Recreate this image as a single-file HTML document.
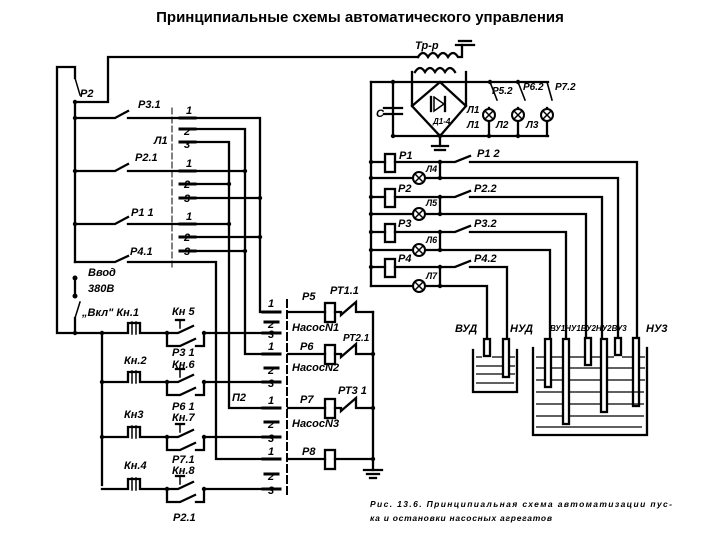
<!DOCTYPE html>
<html><head><meta charset="utf-8"><style>
html,body{margin:0;padding:0;background:#fff;width:720px;height:540px;overflow:hidden}
svg{display:block}
text{font-family:"Liberation Sans",sans-serif;font-weight:bold;font-style:italic;fill:#000}
</style></head><body>
<svg width="720" height="540" viewBox="0 0 720 540" xmlns="http://www.w3.org/2000/svg">
<text x="360" y="22" text-anchor="middle" style="font-style:normal;font-size:15px">Принципиальные схемы автоматического управления</text>
<g fill="none" stroke="#000" stroke-width="2.3" stroke-linecap="square">
<polyline points="75,102 108,102 108,57 418,57"/>
<path d="M418,57 q5,-8 10,0 q5,-8 10,0 q5,-8 10,0 q5,-8 10,0 l4,0 l0,-12"/>
<line x1="456" y1="45" x2="474" y2="45"/><line x1="459" y1="41" x2="471" y2="41"/>
<polyline points="75,78 75,67 57,67 57,333 102,333"/>
<line x1="75" y1="78" x2="80" y2="95" stroke-width="1.5"/>
<line x1="75" y1="102" x2="75" y2="262"/>
<polyline points="75,118 115,118 128,111"/><line x1="128" y1="118" x2="180" y2="118"/>
<polyline points="75,171 115,171 128,164"/><line x1="128" y1="171" x2="180" y2="171"/>
<polyline points="75,224 115,224 128,217"/><line x1="128" y1="224" x2="180" y2="224"/>
<polyline points="75,262 115,262 128,256"/><polyline points="128,262 216,262 216,459 263,459"/>
<line x1="172" y1="108" x2="172" y2="270" stroke-width="1" stroke-dasharray="6,3"/>
<g stroke-width="3">
<line x1="180" y1="118" x2="195" y2="118"/><line x1="180" y1="129" x2="195" y2="129"/><line x1="180" y1="142" x2="195" y2="142"/>
<line x1="180" y1="171" x2="195" y2="171"/><line x1="180" y1="184" x2="195" y2="184"/><line x1="180" y1="198" x2="195" y2="198"/>
<line x1="180" y1="224" x2="195" y2="224"/><line x1="180" y1="237" x2="195" y2="237"/><line x1="180" y1="251" x2="195" y2="251"/>
</g>
<polyline points="195,118 260,118 260,312 263,312"/>
<polyline points="195,129 245,129 245,354 263,354"/>
<polyline points="195,142 229,142 229,408 263,408"/>
<line x1="195" y1="171" x2="245" y2="171"/><line x1="195" y1="184" x2="229" y2="184"/><line x1="195" y1="198" x2="260" y2="198"/>
<line x1="195" y1="224" x2="229" y2="224"/><line x1="195" y1="237" x2="260" y2="237"/><line x1="195" y1="251" x2="245" y2="251"/>
<g stroke-width="3">
<line x1="263" y1="312" x2="280" y2="312"/><line x1="265" y1="322" x2="278" y2="322"/><line x1="263" y1="333" x2="280" y2="333"/>
<line x1="263" y1="354" x2="280" y2="354"/><line x1="265" y1="368" x2="278" y2="368"/><line x1="263" y1="382" x2="280" y2="382"/>
<line x1="263" y1="408" x2="280" y2="408"/><line x1="265" y1="422" x2="278" y2="422"/><line x1="263" y1="437" x2="280" y2="437"/>
<line x1="263" y1="459" x2="280" y2="459"/><line x1="265" y1="474" x2="278" y2="474"/><line x1="263" y1="489" x2="280" y2="489"/>
</g>
<line x1="287" y1="300" x2="287" y2="495" stroke-width="2" stroke-dasharray="7,4"/>
<line x1="288" y1="312" x2="325" y2="312"/><rect x="325" y="303" width="10" height="19"/><polyline points="335,312 341,312 341,315 356,302 356,312 373,312"/>
<line x1="288" y1="354" x2="325" y2="354"/><rect x="325" y="345" width="10" height="19"/><polyline points="335,354 341,354 341,357 356,344 356,354 373,354"/>
<line x1="288" y1="408" x2="325" y2="408"/><rect x="325" y="399" width="10" height="19"/><polyline points="335,408 341,408 341,411 356,398 356,408 373,408"/>
<line x1="288" y1="459" x2="325" y2="459"/><rect x="325" y="450" width="10" height="19"/><line x1="335" y1="459" x2="373" y2="459"/>
<polyline points="373,312 373,470"/><line x1="364" y1="470" x2="382" y2="470"/><line x1="367" y1="474" x2="379" y2="474"/><line x1="370" y1="478" x2="376" y2="478"/>
<line x1="75" y1="278" x2="75" y2="296"/><line x1="75" y1="318" x2="80" y2="302" stroke-width="1.5"/><line x1="75" y1="318" x2="75" y2="333"/>
<line x1="102" y1="333" x2="102" y2="485"/>
<g id="r">
<polyline points="102,333 128,333 128,323 140,323 140,333 167,333 178,333 193,326"/>
<line x1="132" y1="322" x2="132" y2="334" stroke-width="1.5"/><line x1="136" y1="322" x2="136" y2="334" stroke-width="1.5"/>
<line x1="176" y1="320" x2="184" y2="320"/><line x1="180" y1="320" x2="180" y2="328" stroke-width="1.5"/>
<polyline points="167,333 167,346 180,346 195,339"/><polyline points="204,333 204,346 196,346"/>
<line x1="204" y1="333" x2="263" y2="333"/>
</g>
<use href="#r" y="49"/><use href="#r" y="104"/><use href="#r" y="156"/>
<line x1="371" y1="82" x2="371" y2="286"/>
<line x1="371" y1="82" x2="548" y2="82"/>
<line x1="393" y1="82" x2="393" y2="136"/><line x1="384" y1="108" x2="402" y2="108"/><line x1="384" y1="114" x2="402" y2="114"/>
<line x1="393" y1="136" x2="548" y2="136"/>
<path d="M415,72 q5,-8 10,0 q5,-8 10,0 q5,-8 10,0 q5,-8 10,0"/>
<polyline points="412,72 412,106 440,136 466,106 466,72"/><polyline points="412,106 440,82 466,106"/>
<line x1="440" y1="136" x2="440" y2="146"/><line x1="432" y1="146" x2="448" y2="146"/><line x1="435" y1="150" x2="445" y2="150"/>
<polyline points="431,97 431,111"/><polyline points="434,97 434,111 444,104 434,97" stroke-width="1.5"/><line x1="445" y1="97" x2="445" y2="111"/>
<line x1="490" y1="82" x2="497" y2="100" stroke-width="1.6"/><line x1="489" y1="108" x2="489" y2="136"/>
<line x1="518" y1="82" x2="525" y2="100" stroke-width="1.6"/><line x1="518" y1="108" x2="518" y2="136"/>
<line x1="547" y1="82" x2="552" y2="100" stroke-width="1.6"/><line x1="547" y1="108" x2="547" y2="136"/>
<line x1="371" y1="162" x2="385" y2="162"/><rect x="385" y="154" width="10" height="18"/><polyline points="395,162 455,162 470,156"/><polyline points="470,162 637,162 637,338"/>
<polyline points="371,178 440,178 618,178 618,338"/><line x1="440" y1="162" x2="440" y2="178"/>
<line x1="371" y1="197" x2="385" y2="197"/><rect x="385" y="189" width="10" height="18"/><polyline points="395,197 455,197 470,191"/><polyline points="470,197 602,197 602,338"/>
<polyline points="371,214 586,214 586,338"/><line x1="440" y1="197" x2="440" y2="214"/>
<line x1="371" y1="232" x2="385" y2="232"/><rect x="385" y="224" width="10" height="18"/><polyline points="395,232 455,232 470,226"/><polyline points="470,232 566,232 566,338"/>
<polyline points="371,250 550,250 550,338"/><line x1="440" y1="232" x2="440" y2="250"/>
<line x1="371" y1="267" x2="385" y2="267"/><rect x="385" y="259" width="10" height="18"/><polyline points="395,267 455,267 470,261"/><polyline points="470,267 507,267 507,338"/>
<polyline points="371,286 487,286 487,338"/><line x1="440" y1="267" x2="440" y2="286"/>
<polyline points="473,350 473,392 517,392 517,350"/>
<polyline points="533,348 533,435 647,435 647,348"/>
<rect x="484" y="339" width="6" height="17" fill="#fff"/><rect x="503" y="339" width="6" height="38" fill="#fff"/>
<rect x="545" y="339" width="6" height="48" fill="#fff"/><rect x="563" y="339" width="6" height="85" fill="#fff"/>
<rect x="585" y="338" width="6" height="27" fill="#fff"/><rect x="601" y="339" width="6" height="73" fill="#fff"/>
<rect x="615" y="338" width="6" height="17" fill="#fff"/><rect x="633" y="338" width="6" height="68" fill="#fff"/>
</g>
<g stroke="#000" stroke-width="1.2" fill="none">
<path d="M476,357h6M492,357h10M510,357h5M476,366h26M510,366h5M476,374h26M510,374h5M476,383h38"/>
<path d="M536,357h8M552,357h10M570,357h14M592,357h8M608,357h6M622,357h10M640,357h5M536,368h8M552,368h10M570,368h30M608,368h24M640,368h5M536,380h8M552,380h10M570,380h30M608,380h24M640,380h5M536,392h26M570,392h30M608,392h36M536,404h26M570,404h30M608,404h36M536,416h26M570,416h74M536,427h106"/>
</g>
<g fill="#fff" stroke="#000" stroke-width="2">
<circle cx="489" cy="115" r="6"/><circle cx="518" cy="115" r="6"/><circle cx="547" cy="115" r="6"/>
<circle cx="419" cy="178" r="6"/><circle cx="419" cy="214" r="6"/><circle cx="419" cy="250" r="6"/><circle cx="419" cy="286" r="6"/>
</g>
<g stroke="#000" stroke-width="1.5">
<path d="M485,111l8,8M493,111l-8,8M514,111l8,8M522,111l-8,8M543,111l8,8M551,111l-8,8M415,174l8,8M423,174l-8,8M415,210l8,8M423,210l-8,8M415,246l8,8M423,246l-8,8M415,282l8,8M423,282l-8,8"/>
</g>
<g fill="#000">
<circle cx="75" cy="118" r="2.2"/><circle cx="75" cy="171" r="2.2"/><circle cx="75" cy="224" r="2.2"/><circle cx="75" cy="102" r="2.2"/>
<circle cx="245" cy="171" r="2.2"/><circle cx="229" cy="184" r="2.2"/><circle cx="260" cy="198" r="2.2"/><circle cx="229" cy="224" r="2.2"/><circle cx="260" cy="237" r="2.2"/><circle cx="245" cy="251" r="2.2"/>
<circle cx="75" cy="278" r="2.5"/><circle cx="75" cy="296" r="2.5"/><circle cx="75" cy="333" r="2.2"/>
<circle cx="102" cy="333" r="2.2"/><circle cx="102" cy="382" r="2.2"/><circle cx="102" cy="437" r="2.2"/>
<circle cx="167" cy="333" r="2.2"/><circle cx="204" cy="333" r="2.2"/><circle cx="167" cy="382" r="2.2"/><circle cx="204" cy="382" r="2.2"/><circle cx="167" cy="437" r="2.2"/><circle cx="204" cy="437" r="2.2"/><circle cx="167" cy="489" r="2.2"/><circle cx="204" cy="489" r="2.2"/>
<circle cx="373" cy="354" r="2.2"/><circle cx="373" cy="408" r="2.2"/><circle cx="373" cy="459" r="2.2"/>
<circle cx="393" cy="82" r="2.2"/><circle cx="393" cy="136" r="2.2"/><circle cx="490" cy="82" r="2.2"/><circle cx="518" cy="82" r="2.2"/><circle cx="489" cy="136" r="2.2"/><circle cx="518" cy="136" r="2.2"/><circle cx="440" cy="136" r="2.2"/>
<circle cx="371" cy="162" r="2.2"/><circle cx="371" cy="178" r="2.2"/><circle cx="371" cy="197" r="2.2"/><circle cx="371" cy="214" r="2.2"/><circle cx="371" cy="232" r="2.2"/><circle cx="371" cy="250" r="2.2"/><circle cx="371" cy="267" r="2.2"/>
<circle cx="440" cy="162" r="2.2"/><circle cx="440" cy="178" r="2.2"/><circle cx="440" cy="197" r="2.2"/><circle cx="440" cy="214" r="2.2"/><circle cx="440" cy="232" r="2.2"/><circle cx="440" cy="250" r="2.2"/><circle cx="440" cy="267" r="2.2"/><circle cx="440" cy="286" r="2.2"/>
</g>
<g font-size="11">
<text x="80" y="97">Р2</text>
<text x="138" y="108">Р3.1</text><text x="135" y="161">Р2.1</text><text x="131" y="216">Р1 1</text><text x="130" y="255">Р4.1</text>
<text x="154" y="144">Л1</text>
<text x="186" y="114">1</text><text x="186" y="167">1</text><text x="186" y="220">1</text>
<text x="184" y="135">2</text><text x="184" y="148">3</text>
<text x="184" y="188">2</text><text x="184" y="202">3</text>
<text x="184" y="241">2</text><text x="184" y="255">3</text>
<text x="268" y="328">2</text><text x="268" y="338">3</text>
<text x="268" y="374">2</text><text x="268" y="387">3</text>
<text x="268" y="428">2</text><text x="268" y="442">3</text>
<text x="268" y="480">2</text><text x="268" y="494">3</text>
<text x="88" y="276">Ввод</text><text x="88" y="292">380В</text>
<text x="82" y="316">„Вкл" Кн.1</text>
<text x="172" y="315">Кн 5</text>
<text x="124" y="364">Кн.2</text><text x="172" y="356">Р3 1</text><text x="172" y="368">Кн.6</text>
<text x="124" y="418">Кн3</text><text x="172" y="410">Р6 1</text><text x="172" y="421">Кн.7</text>
<text x="124" y="469">Кн.4</text><text x="172" y="463">Р7.1</text><text x="172" y="474">Кн.8</text>
<text x="173" y="521">Р2.1</text>
<text x="268" y="307">1</text><text x="268" y="350">1</text><text x="268" y="404">1</text><text x="268" y="455">1</text>
<text x="232" y="401">П2</text>
<text x="302" y="300">Р5</text><text x="330" y="294">РТ1.1</text>
<text x="292" y="331">НасосN1</text><text x="343" y="341" font-size="10">РТ2.1</text>
<text x="300" y="350">Р6</text><text x="292" y="371">НасосN2</text>
<text x="300" y="403">Р7</text><text x="338" y="394">РТ3 1</text><text x="292" y="427">НасосN3</text>
<text x="302" y="455">Р8</text>
<text x="415" y="49">Тр-р</text>
<text x="376" y="117">С</text>
<text x="492" y="94" font-size="10">Р5.2</text><text x="523" y="90" font-size="10">Р6.2</text><text x="555" y="90" font-size="10">Р7.2</text>
<text x="467" y="113" font-size="10">Л1</text><text x="467" y="128" font-size="10">Л1</text><text x="496" y="128" font-size="10">Л2</text><text x="526" y="128" font-size="10">Л3</text>
<text x="433" y="124" font-size="8">Д1-4</text>
<text x="399" y="159">Р1</text><text x="477" y="157">Р1 2</text><text x="426" y="172" font-size="9">Л4</text>
<text x="398" y="192">Р2</text><text x="474" y="192">Р2.2</text><text x="426" y="206" font-size="9">Л5</text>
<text x="398" y="227">Р3</text><text x="474" y="227">Р3.2</text><text x="426" y="243" font-size="9">Л6</text>
<text x="398" y="262">Р4</text><text x="474" y="262">Р4.2</text><text x="426" y="279" font-size="9">Л7</text>
<text x="455" y="332">ВУД</text><text x="510" y="332">НУД</text>
<text x="550" y="331" font-size="8">ВУ1НУ1ВУ2НУ2ВУ3</text><text x="646" y="332">НУ3</text>
</g>
<g font-size="8.5" style="font-style:normal;font-weight:bold">
<text x="370" y="507" textLength="302" lengthAdjust="spacing">Рис. 13.6. Принципиальная схема автоматизации пус-</text>
<text x="370" y="521" textLength="182" lengthAdjust="spacing">ка и остановки насосных агрегатов</text>
</g>
</svg>
</body></html>
